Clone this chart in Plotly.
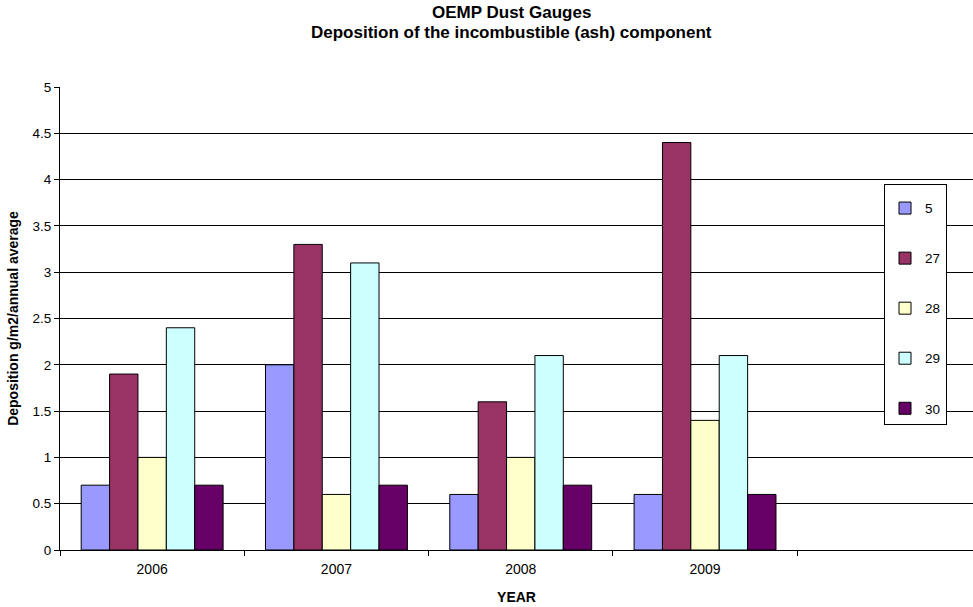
import plotly.graph_objects as go

years = ["2006", "2007", "2008", "2009"]
all_categories = ["2006", "2007", "2008", "2009", " "]
series_names = ["5", "27", "28", "29", "30"]
values = {
    "5":  [0.7, 2.0, 0.6, 0.6],
    "27": [1.9, 3.3, 1.6, 4.4],
    "28": [1.0, 0.6, 1.0, 1.4],
    "29": [2.4, 3.1, 2.1, 2.1],
    "30": [0.7, 0.7, 0.7, 0.6],
}
colors = {"5": "#9999FF", "27": "#993366", "28": "#FFFFCC", "29": "#CCFFFF", "30": "#660066"}
title_lines = ["OEMP Dust Gauges", "Deposition of the incombustible (ash) component"]

fig = go.Figure()
for name in series_names:
    fig.add_trace(go.Bar(
        x=years, y=values[name], name=name, legendgroup=name,
        marker=dict(color=colors[name], line=dict(color="black", width=1)),
    ))

font_family = "Liberation Sans, Arial, sans-serif"
for i, line in enumerate(title_lines):
    fig.add_annotation(
        text="<b>" + line + "</b>", xref="paper", yref="paper",
        x=(511 - 60) / 913, y=1 + (87 - 12 - 21 * i) / 463,
        xanchor="center", yanchor="middle", showarrow=False,
        font=dict(size=17, family=font_family, color="black"),
    )

fig.update_layout(
    width=973, height=607,
    margin=dict(l=60, r=0, t=87, b=57),
    paper_bgcolor="white", plot_bgcolor="white",
    font=dict(family=font_family, size=13.5, color="black"),
    barmode="group", bargap=0.23, bargroupgap=0,
    xaxis=dict(
        type="category", categoryorder="array", categoryarray=all_categories,
        range=[-0.5, 4.454], tickson="boundaries", ticks="outside", ticklen=5,
        tickcolor="black", showline=True, linecolor="black", linewidth=1,
        showgrid=False, tickfont=dict(size=14), ticklabelstandoff=6,
        title=dict(text="<b>YEAR</b>", font=dict(size=14), standoff=16),
    ),
    yaxis=dict(
        range=[0, 5], dtick=0.5, ticks="outside", ticklen=5,
        tickcolor="black", showline=True, linecolor="black", linewidth=1,
        showgrid=True, gridcolor="black", gridwidth=1, zeroline=False,
        tickfont=dict(size=13.5),
        title=dict(text="<b>Deposition g/m2/annual average</b>", font=dict(size=14), standoff=10),
    ),
    legend=dict(
        x=(884 - 60) / 913, y=(550 - 184) / 463, xanchor="left", yanchor="top",
        bordercolor="black", borderwidth=1, bgcolor="white",
        tracegroupgap=29.5, itemwidth=30, font=dict(size=13.5),
        traceorder="grouped",
        title=dict(text="&nbsp;", font=dict(size=6)),
    ),
)

fig.write_html("out.html")
